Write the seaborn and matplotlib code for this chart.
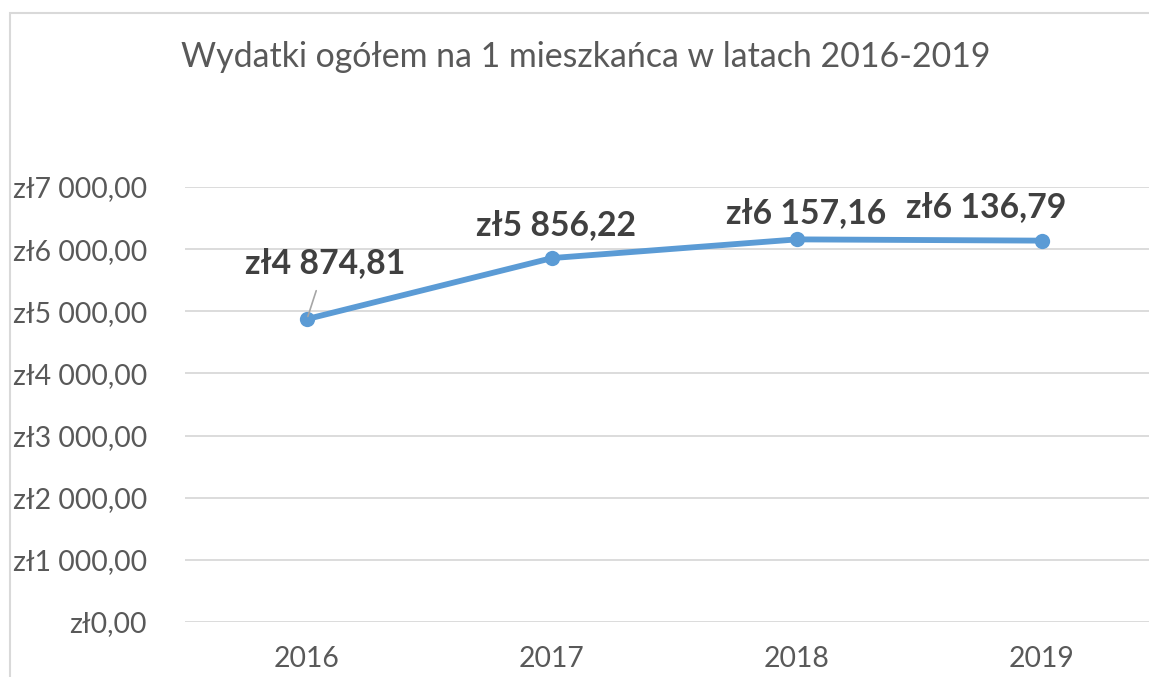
import matplotlib
matplotlib.use("Agg")
import matplotlib.pyplot as plt
import seaborn as sns
import pandas as pd
from matplotlib.patches import Rectangle
from matplotlib.ticker import FuncFormatter

years = ["2016", "2017", "2018", "2019"]
values = [4874.81, 5856.22, 6157.16, 6136.79]
labels = ["zł4 874,81", "zł5 856,22", "zł6 157,16", "zł6 136,79"]
title = "Wydatki ogółem na 1 mieszkańca w latach 2016-2019"

sns.set_theme(style="white")
plt.rcParams['font.family'] = ['Lato', 'DejaVu Sans']

W, H = 1149, 677
fig = plt.figure(figsize=(W/100, H/100), dpi=100)
left_px, right_px, top_px, bot_px = 184.5, 1164.5, 187, 622
ymax = 7000
ax = fig.add_axes([left_px/W, 1 - bot_px/H, (right_px-left_px)/W, (bot_px-top_px)/H])

df = pd.DataFrame({"year": years, "value": values})
df["x"] = range(len(years))
sns.lineplot(data=df, x="x", y="value", ax=ax, color="#5b9bd5", linewidth=4.2,
             marker="o", markersize=11, markeredgewidth=0, clip_on=False)

ax.set_xlim(-0.5, len(years) - 0.5)
ax.set_ylim(0, ymax)
ax.set_yticks(range(0, 7001, 1000))
ax.yaxis.set_major_formatter(FuncFormatter(lambda v, p: "zł" + (f"{int(v):,}".replace(",", " ")) + ",00" if v >= 1000 else "zł0,00"))
ax.set_xticks(df["x"])
ax.set_xticklabels(years)
ax.grid(axis="y", color="#d9d9d9", linewidth=1.3)
ax.set_axisbelow(True)
for s in ax.spines.values():
    s.set_visible(False)
ax.tick_params(axis="y", length=0, pad=27, labelsize=20.4, labelcolor="#595959")
ax.tick_params(axis="x", length=0, pad=17, labelsize=20.4, labelcolor="#595959")
ax.set_xlabel("")
ax.set_ylabel("")

# data labels (offsets in points)
offsets = [(13, 40), (3, 24), (6.5, 19), (-40, 24)]
for i, (v, lab) in enumerate(zip(values, labels)):
    if i == 0:
        ax.annotate(lab, xy=(i, v), xytext=offsets[i], textcoords="offset points",
                    ha="center", va="center", fontsize=24.3, fontweight="bold", color="#404040",
                    arrowprops=dict(arrowstyle="-", color="#a6a6a6", lw=1.2, shrinkA=6, shrinkB=2))
    else:
        ax.annotate(lab, xy=(i, v), xytext=offsets[i], textcoords="offset points",
                    ha="center", va="center", fontsize=24.3, fontweight="bold", color="#404040")

fig.text(586/W, 1 - 57/H, title, ha="center", va="center", fontsize=24.4, color="#595959")

fig.patches.append(Rectangle((10/W, -0.05), 1.1, 1 - 13/H + 0.05, transform=fig.transFigure,
                             fill=False, edgecolor="#d9d9d9", linewidth=1.5))

fig.savefig("out.png", dpi=100)
